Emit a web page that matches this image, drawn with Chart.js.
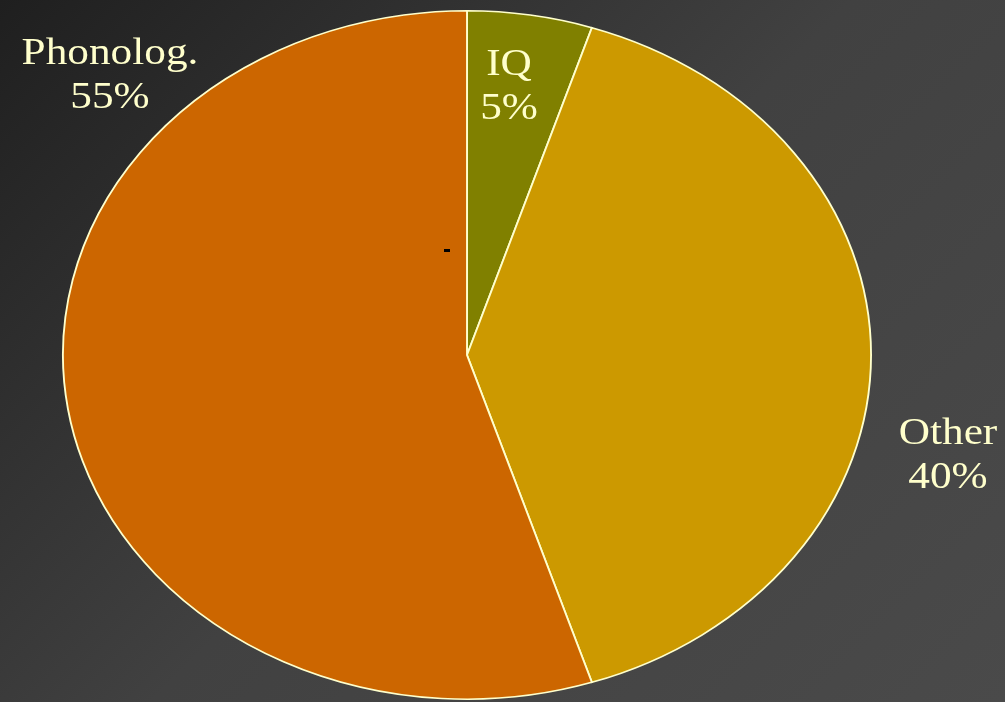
<!DOCTYPE html>
<html>
<head>
<meta charset="utf-8">
<title>Pie</title>
<script src="https://cdn.jsdelivr.net/npm/chart.js@4.4.1/dist/chart.umd.min.js"></script>
<style>
  html, body { margin: 0; padding: 0; }
  body {
    width: 1005px; height: 702px; overflow: hidden;
    background: linear-gradient(135deg, #1f1f1f 0%, #414141 50%, #4a4a4a 100%);
  }
  canvas { display: block; }
</style>
</head>
<body>
<canvas id="pie" width="1005" height="702"></canvas>
<script>
  // data
  var categories = ['IQ', 'Other', 'Phonolog.'];
  var shares = [5, 40, 55];
  var sliceColors = ['#808000', '#CC9900', '#CC6600'];

  // where each label sits (text centre), and how the pie is squashed
  var labelAnchors = [[509, 97], [948, 466], [110, 86]];
  var stretchX = 405 / 345;
  var textColor = '#FFFFCC';

  var ellipsePlugin = {
    id: 'ellipse',
    beforeDatasetsDraw: function (chart) {
      var arc = chart.getDatasetMeta(0).data[0];
      var ctx = chart.ctx;
      ctx.save();
      ctx.translate(arc.x, arc.y);
      ctx.scale(stretchX, 1);
      ctx.translate(-arc.x, -arc.y);
    },
    afterDatasetsDraw: function (chart) {
      chart.ctx.restore();
    },
    afterDraw: function (chart) {
      var ctx = chart.ctx;
      ctx.save();
      ctx.fillStyle = textColor;
      ctx.textAlign = 'center';
      ctx.textBaseline = 'alphabetic';
      ctx.font = '37px "Liberation Serif", "Times New Roman", serif';
      categories.forEach(function (name, i) {
        var p = labelAnchors[i];
        var lines = [name, shares[i] + '%'];
        lines.forEach(function (t, j) {
          ctx.save();
          ctx.translate(p[0], p[1] - 22 + j * 44);
          ctx.scale(1.17, 1);
          ctx.fillText(t, 0, 0);
          ctx.restore();
        });
      });
      // stray tiny label in the middle of the big slice
      ctx.fillStyle = '#000000';
      ctx.fillRect(444, 249, 6, 3);
      ctx.restore();
    }
  };

  new Chart(document.getElementById('pie').getContext('2d'), {
    type: 'pie',
    data: {
      labels: categories,
      datasets: [{
        data: shares,
        backgroundColor: sliceColors,
        borderColor: '#FFFFCC',
        borderWidth: 1.6,
        borderJoinStyle: 'miter'
      }]
    },
    options: {
      responsive: false,
      animation: false,
      layout: { padding: { left: 0, right: 71, top: 10, bottom: 2 } },
      plugins: {
        legend: { display: false },
        tooltip: { enabled: false }
      }
    },
    plugins: [ellipsePlugin]
  });
</script>
</body>
</html>
